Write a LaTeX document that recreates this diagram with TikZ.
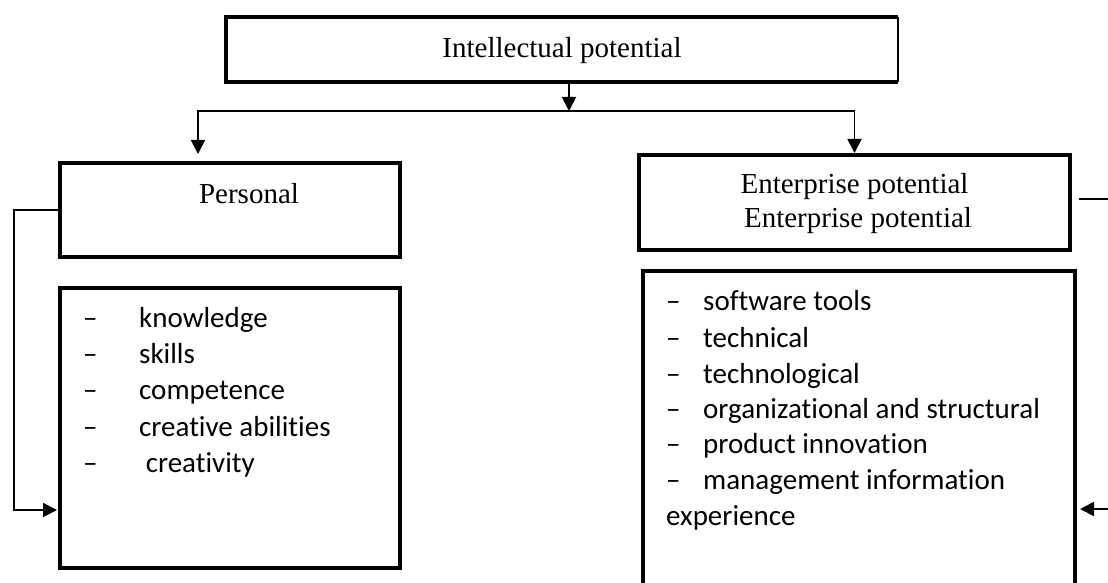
\documentclass[tikz,border=0pt]{standalone}
\usepackage{fontspec}
\setmainfont{Liberation Serif}
\newfontfamily\listfont[Ligatures=NoCommon]{Carlito}
\usetikzlibrary{arrows.meta}

\begin{document}
\begin{tikzpicture}[x=1pt,y=-1pt,
  box/.style={draw,line width=4.5pt,inner sep=0pt,outer sep=0pt},
  link/.style={line width=1.8pt},
  tip/.style={-{Triangle[length=14pt,width=14pt]}},
  title/.style={anchor=base,inner sep=0pt,font=\fontsize{29}{35}\selectfont},
  item/.style={anchor=base west,inner sep=0pt,font=\listfont\fontsize{29}{35}\selectfont}]
  \useasboundingbox (0,0) rectangle (1108,583);

  \node[minimum width=672pt,minimum height=65pt,inner sep=0pt,outer sep=0pt] (top) at (562,49.5) {};
  \draw[line width=4.5pt] (top.north east) -- (top.north west) -- (top.south west) -- (top.south east);
  \draw[link] (top.north east) -- (top.south east);
  \node[title] (toptext) at (562,58) {Intellectual potential};

  \node[box,minimum width=340pt,minimum height=94pt] (pers) at (230,210) {};
  \node[title] (perstext) at (249,203) {Personal};
  \node[box,minimum width=340pt,minimum height=280pt] (plist) at (230,428) {};

  \node[box,minimum width=431pt,minimum height=95pt] (ent) at (854.5,202.5) {};
  \node[title] (ent1) at (854.5,193) {Enterprise potential};
  \node[title] (ent2) at (858,227) {Enterprise potential};
  \node[box,minimum width=432pt,minimum height=339pt] (rlist) at (859,440.5) {};

  \coordinate (split) at (569,111);
  \draw[link,tip] ([xshift=7pt]top.south) -- (split);
  \draw[link,tip,shorten >=9pt] (split) -| ([xshift=-32pt]pers.north);
  \draw[link,tip,shorten >=2pt] (split) -| (ent.north);

  \coordinate (lin) at (57,510);
  \draw[link,tip] (pers.west) -- ++(-46,0) |- (lin);
  \coordinate (rout) at (1122,199);
  \coordinate (rin) at (1080,509);
  \draw[link,tip] ([xshift=9pt,yshift=3.5pt]ent.east) -- (rout) |- (rin);

  \node[item] (p1) at (83,327) {\makebox[56pt][l]{–}knowledge};
  \node[item] (p2) at (83,363) {\makebox[56pt][l]{–}skills};
  \node[item] (p3) at (83,399) {\makebox[56pt][l]{–}competence};
  \node[item] (p4) at (83,436) {\makebox[56pt][l]{–}creative abilities};
  \node[item] (p5) at (83,472) {\makebox[56pt][l]{–}\ creativity};

  \node[item] (e1) at (666,310) {\makebox[37pt][l]{–}software tools};
  \node[item] (e2) at (666,347) {\makebox[37pt][l]{–}technical};
  \node[item] (e3) at (666,383) {\makebox[37pt][l]{–}technological};
  \node[item] (e4) at (666,418) {\makebox[37pt][l]{–}organizational and structural};
  \node[item] (e5) at (666,453) {\makebox[37pt][l]{–}product innovation};
  \node[item] (e6) at (666,489) {\makebox[37pt][l]{–}management information};
  \node[item] (e7) at (666,525) {experience};
\end{tikzpicture}
\end{document}
